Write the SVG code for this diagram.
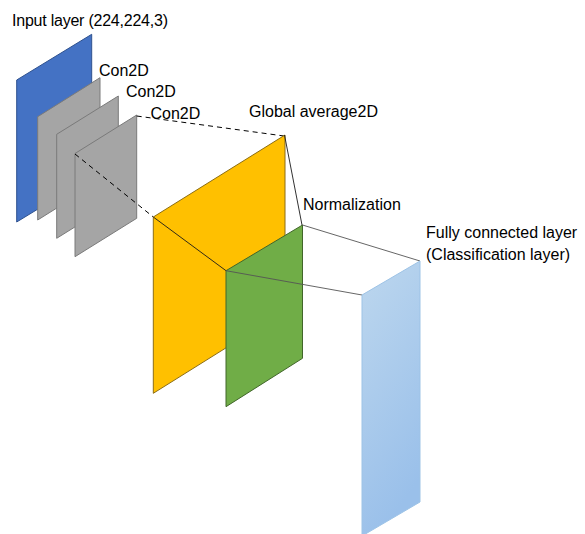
<svg xmlns="http://www.w3.org/2000/svg" width="585" height="534" viewBox="0 0 585 534">
<defs>
<linearGradient id="fcGrad" x1="0" y1="0" x2="0.3" y2="1">
<stop offset="0" stop-color="#BDD7EE"/>
<stop offset="1" stop-color="#9AC0EA"/>
</linearGradient>
</defs>
<style>
text{font-family:"Liberation Sans",Arial,sans-serif;font-size:16px;fill:#000}
.blue{fill:#4472C4;stroke:#2F528F;stroke-width:1}
.gray{fill:#A5A5A5;stroke:#7A7A7A;stroke-width:1}
.yellow{fill:#FFC000;stroke:#8C6D14;stroke-width:1}
.green{fill:#70AD47;stroke:#41662A;stroke-width:1}
.fc{fill:url(#fcGrad);stroke:#9DC3E6;stroke-width:1}
.dash{fill:none;stroke:#000;stroke-width:1;stroke-dasharray:5,4}
.line{fill:none;stroke:#1a1a1a;stroke-width:0.9}
.thin{fill:none;stroke:#555;stroke-width:0.9}
</style>
<rect width="585" height="534" fill="#FFFFFF"/>
<g id="input-layer">
<polygon class="blue" points="16.7,80 91.7,34.3 91.7,176.3 16.7,222"/>
<text x="12" y="25.7" textLength="156" lengthAdjust="spacing">Input layer (224,224,3)</text>
</g>
<g id="conv1">
<polygon class="gray" points="37.7,116.7 100,77.7 100,181 37.7,220"/>
<text x="99" y="76">Con2D</text>
</g>
<g id="conv2">
<polygon class="gray" points="56.7,134.3 118.3,96 118.3,200 56.7,238.3"/>
<text x="126" y="96.7">Con2D</text>
</g>
<g id="conv3">
<polygon class="gray" points="75,153.5 136.7,115 136.7,218.3 75,256.7"/>
<text x="150.5" y="119.3">Con2D</text>
</g>
<g id="connectors-back">
<line class="dash" x1="136.7" y1="116" x2="284" y2="136"/>
<line class="dash" x1="75" y1="154" x2="153.3" y2="217"/>
</g>
<g id="global-average">
<polygon class="yellow" points="153.3,217 285,135 285,311 153.3,393.3"/>
<text x="249" y="117">Global average2D</text>
</g>
<g id="connectors-mid">
<line class="line" x1="153.3" y1="217" x2="226" y2="270.7"/>
<line class="line" x1="284.5" y1="135" x2="302" y2="225"/>
</g>
<g id="normalization">
<polygon class="green" points="226,270.7 302.5,225 302.5,358.3 226,406.7"/>
<text x="303" y="210">Normalization</text>
</g>
<g id="connectors-front">
<line class="thin" x1="302.5" y1="225" x2="420" y2="261"/>
<line class="thin" x1="226" y1="270.7" x2="362" y2="295"/>
</g>
<g id="fully-connected">
<polygon class="fc" points="362,295 420,261 420,502 362,536"/>
<text x="426" y="238.3">Fully connected layer</text>
<text x="426" y="260">(Classification layer)</text>
</g>
</svg>
